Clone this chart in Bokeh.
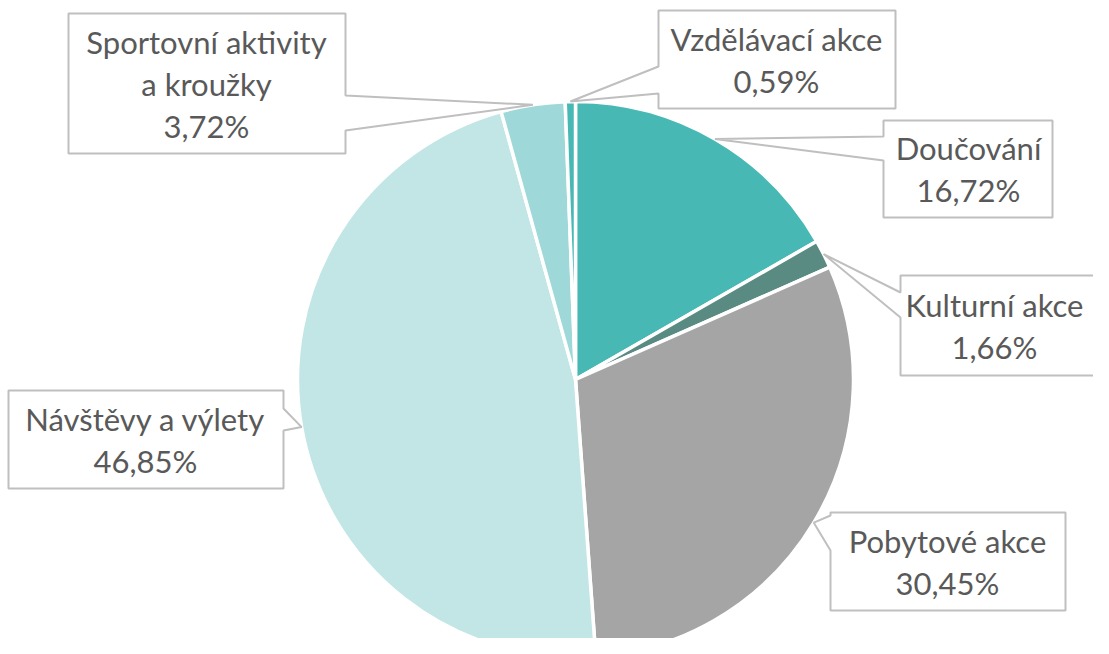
import math
from bokeh.plotting import figure
from bokeh.models import Range1d
from bokeh.core.properties import value
from bokeh.embed import file_html
from bokeh.resources import INLINE

# ---- data ----
categories = ["Doučování", "Kulturní akce", "Pobytové akce", "Návštěvy a výlety",
              "Sportovní aktivity\na kroužky", "Vzdělávací akce"]
shares = [16.72, 1.66, 30.45, 46.85, 3.72, 0.59]
value_labels = ["16,72%", "1,66%", "30,45%", "46,85%", "3,72%", "0,59%"]
colors = ["#47B8B4", "#5A8B83", "#A5A5A5", "#C1E6E5", "#9ED8D8", "#47B8B4"]

# ---- layout (image pixel coordinates) ----
W, H = 1093, 638
def X(x): return x
def Y(y): return H - y

CX, CY, R = 575, 379, 278
# label boxes: (x0, y0, x1, y1, side of pointer, base0, base1)
boxes = [
    (883, 120, 1052, 217, "left", 136, 160),
    (900, 275, 1125, 375, "left", 292, 317),
    (830, 512, 1065, 610, "left", 515, 550),
    (8, 390, 283, 488, "right", 408, 430),
    (68, 13, 345, 153, "right", 95, 130),
    (658, 10, 895, 108, "left", 66, 93),
]
text_centers_x = [968, 994, 947, 145, 206, 776]

p = figure(width=W, height=H, output_backend="svg", toolbar_location=None,
           x_range=Range1d(0, W), y_range=Range1d(0, H), min_border=0)
p.axis.visible = False
p.grid.visible = False
p.outline_line_color = None
p.background_fill_color = "white"
p.border_fill_color = "white"

total = sum(shares)
cum = 0.0
starts, ends, mids = [], [], []
for s in shares:
    a0 = math.pi / 2 - 2 * math.pi * cum / total
    cum += s
    a1 = math.pi / 2 - 2 * math.pi * cum / total
    starts.append(a0)
    ends.append(a1)
    mids.append((a0 + a1) / 2)

p.wedge(x=[X(CX)] * len(shares), y=[Y(CY)] * len(shares), radius=R,
        start_angle=starts, end_angle=ends, direction="clock",
        fill_color=colors, line_color="white", line_width=3.5)

font = value("Lato")
fs = "31px"
lh = 42
for i, (x0, y0, x1, y1, side, b0, b1) in enumerate(boxes):
    tx = CX + R * math.cos(mids[i])
    ty = CY - R * math.sin(mids[i])
    if side == "right":
        pts = [(x0, y0), (x1, y0), (x1, b0), (tx, ty), (x1, b1), (x1, y1), (x0, y1)]
    else:
        pts = [(x0, y0), (x1, y0), (x1, y1), (x0, y1), (x0, b1), (tx, ty), (x0, b0)]
    p.patch([X(a) for a, b in pts], [Y(b) for a, b in pts],
            fill_color="white", line_color="#BFBFBF", line_width=2)
    lines = categories[i].split("\n") + [value_labels[i]]
    xc = text_centers_x[i]
    yc = (y0 + y1) / 2
    n = len(lines)
    for k, t in enumerate(lines):
        yy = yc + (k - (n - 1) / 2) * lh
        p.text(x=[X(xc)], y=[Y(yy)], text=[t], text_font=font, text_font_size=fs,
               text_color="#595959", text_align="center", text_baseline="middle")

open("out.html", "w").write(file_html(p, INLINE))
